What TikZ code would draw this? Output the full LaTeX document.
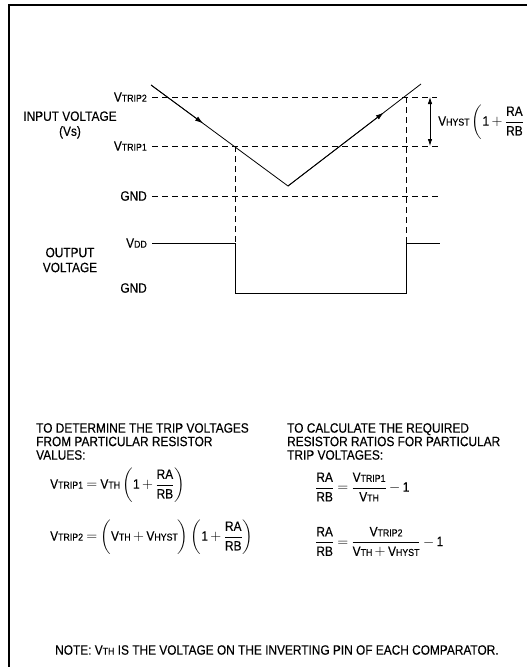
\documentclass[tikz,border=0pt]{standalone}
\usepackage{amsmath}
\usepackage{fontspec}
\setmainfont{Liberation Sans}[FakeStretch=0.88, FakeBold=0.3]
\usepackage{tikz}
\usetikzlibrary{arrows.meta,positioning,calc}
\newcommand\vsub[1]{V{\fontsize{10}{10}\selectfont #1}}
\newcommand\tx[1]{\text{#1}}
\newcommand\rab{\frac{\tx{RA}}{\tx{RB}}}
\newcommand\tightmath{\thickmuskip=4mu\relax\medmuskip=3mu\relax\displaystyle}

\begin{document}
\begin{tikzpicture}[x=1pt, y=-1pt,
      lbl/.style={font=\fontsize{13.5}{15}\selectfont, inner sep=0pt},
      eqn/.style={lbl, anchor=west},
      body/.style={font=\fontsize{13.5}{13.5}\selectfont, align=left, inner sep=0pt, anchor=north west},
      level/.style={dash pattern=on 6pt off 4pt, line width=0.7pt},
      wave/.style={line width=0.8pt},
      tip/.style={-{Latex[length=8pt,width=5pt]}}
    ]
    \useasboundingbox (0,0) rectangle (527,667);
    \draw[line width=1.3pt] (527,5) -- (9,5) -- (9,667);

    \node[lbl, anchor=east] (vt2) at (147,97) {\vsub{TRIP2}};
    \node[lbl, anchor=east] (vt1) at (147,146) {\vsub{TRIP1}};
    \node[lbl, anchor=east] (gndin) at (147,196) {GND};
    \node[lbl, anchor=east] (vdd) at (147,243) {\vsub{DD}};
    \node[lbl, anchor=east] (gndout) at (147,288) {GND};
    \node[lbl, align=center] (inp) at (70,125) {INPUT VOLTAGE\\(Vs)};
    \node[lbl, align=center] (outp) at (70,260) {OUTPUT\\VOLTAGE};

    \coordinate (r2) at (437,97);
    \coordinate (r1) at (440,146);
    \coordinate (r0) at (438,196);
    \draw[level] ([xshift=5pt]vt2.east) -- (r2);
    \draw[level] ([xshift=5pt]vt1.east) -- (r1);
    \draw[level] ([xshift=5pt]gndin.east) -- (r0);

    \coordinate (w0) at (151,85);
    \coordinate (wm) at (288,186);
    \coordinate (w1) at (421,84);
    \draw[wave] (w0) -- (wm) -- (w1);
    \draw[wave, tip] (w0) -- ($(w0)!0.38!(wm)$);
    \draw[wave, tip] (wm) -- ($(wm)!0.72!(w1)$);

    \coordinate (c1) at (235,146);
    \coordinate (c2) at (406,97);
    \coordinate (fall) at (235,243);
    \coordinate (rise) at (406,243);
    \draw[level] (c1) -- (fall);
    \draw[level] (c2) -- (rise);
    \draw[wave] ([xshift=5pt]vdd.east) -- (fall) -- (235,293) -- (406,293) -- (rise) -- (440,243);

    \draw[wave, {Latex[length=7pt,width=4.5pt]}-{Latex[length=7pt,width=4.5pt]}] (430,97) -- (430,146);
    \node[eqn] (hyst) at (438,122) {$\tightmath\tx{\vsub{HYST}}\left(\tx{1}+\rab\right.$};

    \node[body] (det) at (36,423) {TO DETERMINE THE TRIP VOLTAGES\\FROM PARTICULAR RESISTOR\\VALUES:};
    \node[eqn] (eq1) at (50,485) {$\tightmath\tx{\vsub{TRIP1}}=\tx{\vsub{TH}}\left(\tx{1}+\rab\right)$};
    \node[eqn] (eq2) at (50,537) {$\tightmath\tx{\vsub{TRIP2}}=\left(\vphantom{\rab}\tx{\vsub{TH}}+\tx{\vsub{HYST}}\right)\left(\tx{1}+\rab\right)$};

    \node[body] (calc) at (287,423) {TO CALCULATE THE REQUIRED\\RESISTOR RATIOS FOR PARTICULAR\\TRIP VOLTAGES:};
    \node[eqn] (eq3) at (315,487) {$\tightmath\rab=\frac{\tx{\vsub{TRIP1}}}{\tx{\vsub{TH}}}-\tx{1}$};
    \node[eqn] (eq4) at (315,542) {$\tightmath\rab=\frac{\tx{\vsub{TRIP2}}}{\tx{\vsub{TH}}+\tx{\vsub{HYST}}}-\tx{1}$};

    \node[lbl, anchor=west] (note) at (55,650) {NOTE: \vsub{TH} IS THE VOLTAGE ON THE INVERTING PIN OF EACH COMPARATOR.};
  \end{tikzpicture}
\end{document}
